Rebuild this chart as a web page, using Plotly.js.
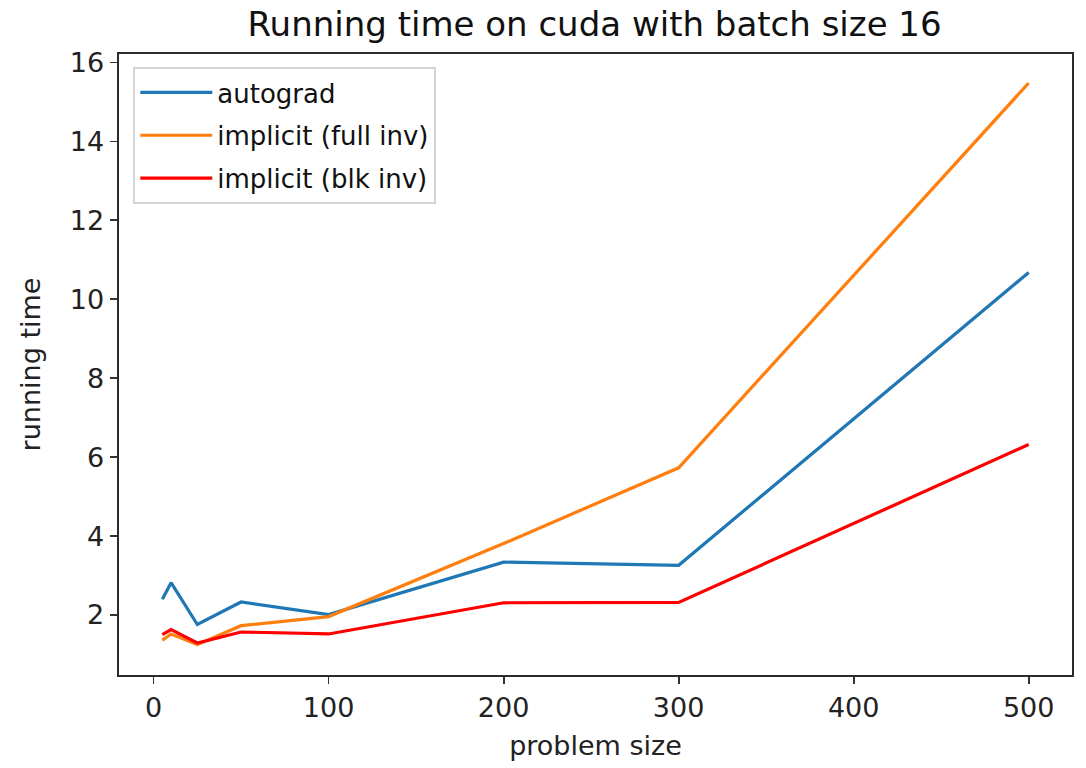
<!DOCTYPE html>
<html>
<head>
<meta charset="utf-8">
<script src="https://cdn.plot.ly/plotly-3.0.1.min.js"></script>
<style>html,body{margin:0;padding:0;background:#fff;}#chart{width:1086px;height:768px;}</style>
</head>
<body>
<div id="chart"></div>
<script>
const problemSize = [5, 10, 25, 50, 100, 200, 300, 500];
const autograd = [2.40, 2.82, 1.76, 2.33, 2.01, 3.34, 3.26, 10.68];
const implicitFull = [1.36, 1.52, 1.25, 1.73, 1.96, 3.81, 5.73, 15.48];
const implicitBlk = [1.50, 1.63, 1.29, 1.57, 1.52, 2.31, 2.32, 6.32];
const seriesNames = ["autograd", "implicit (full inv)", "implicit (blk inv)"];
const seriesColors = ["#1f77b4", "#ff7f0e", "#ff0000"];
const seriesValues = [autograd, implicitFull, implicitBlk];
const xTicks = [0, 100, 200, 300, 400, 500];
const yTicks = [2, 4, 6, 8, 10, 12, 14, 16];

const traces = seriesValues.map((vals, i) => ({
  x: problemSize, y: vals, type: 'scatter', mode: 'lines', name: seriesNames[i],
  legendgroup: 'g' + i,
  line: {color: seriesColors[i], width: 3.2}
}));

const font = 'DejaVu Sans, sans-serif';
const layout = {
  width: 1086, height: 768,
  margin: {l: 119, r: 14, t: 54, b: 93},
  paper_bgcolor: '#fff', plot_bgcolor: '#fff',
  font: {family: font, color: '#222', size: 27},
  title: {text: 'Running time on cuda with batch size 16', font: {family: font, size: 34, color: '#111'}, x: 0.5475, xanchor: 'center', y: 0.968, yanchor: 'middle'},
  xaxis: {
    range: [-19.75, 524.75], tickvals: xTicks, ticktext: xTicks.map(String),
    showgrid: false, zeroline: false, showline: true, mirror: true, linecolor: '#2b2b2b', linewidth: 2.4,
    ticks: 'outside', ticklen: 7, tickwidth: 1.8, tickcolor: '#333',
    tickfont: {family: font, size: 27, color: '#222'},
    title: {text: 'problem size', font: {family: font, size: 27, color: '#222'}, standoff: 15}
  },
  yaxis: {
    range: [0.48, 16.215], tickvals: yTicks, ticktext: yTicks.map(String),
    showgrid: false, zeroline: false, showline: true, mirror: true, linecolor: '#2b2b2b', linewidth: 2.4,
    ticks: 'outside', ticklen: 7, tickwidth: 1.8, tickcolor: '#333',
    tickfont: {family: font, size: 27, color: '#222'},
    title: {text: 'running time', font: {family: font, size: 27, color: '#222'}, standoff: 22}
  },
  showlegend: true,
  legend: {
    x: 0.015, y: 0.979, xanchor: 'left', yanchor: 'top',
    bgcolor: 'rgba(255,255,255,0.8)', bordercolor: '#d4d4d4', borderwidth: 2,
    font: {family: font, size: 26, color: '#111'},
    itemwidth: 72,
    traceorder: 'grouped', tracegroupgap: 6
  }
};
Plotly.newPlot('chart', traces, layout, {staticPlot: true, displayModeBar: false});
</script>
</body>
</html>
